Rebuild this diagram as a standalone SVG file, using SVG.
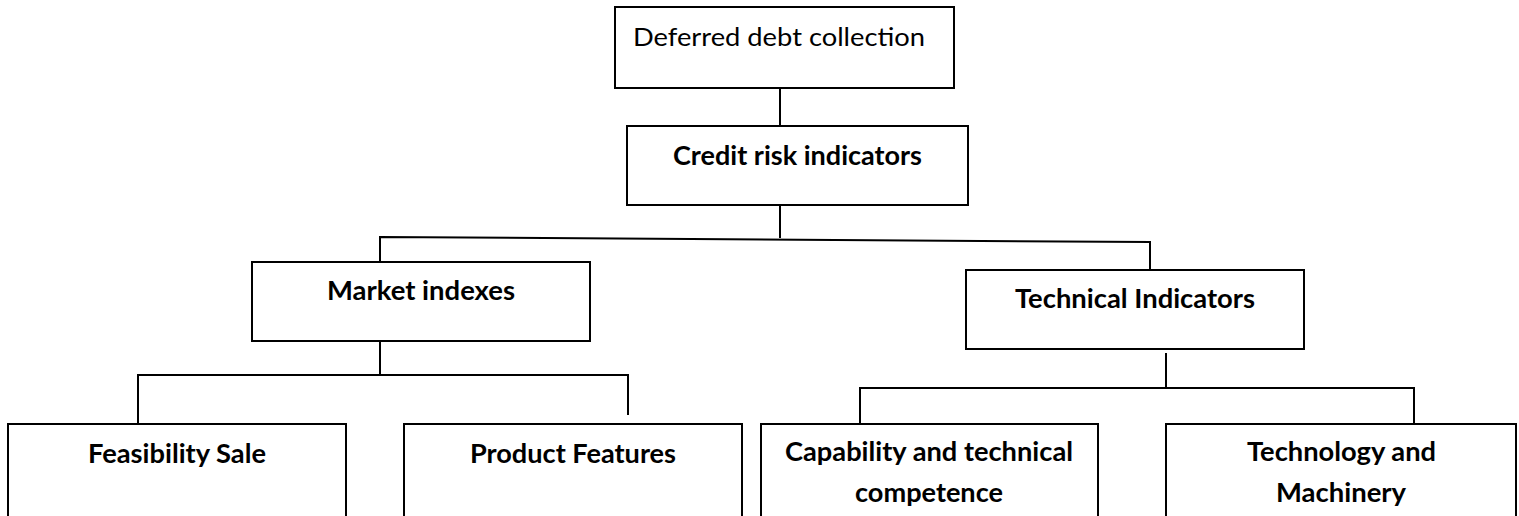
<svg xmlns="http://www.w3.org/2000/svg" width="1519" height="516" viewBox="0 0 1519 516">
<style>
.box{fill:#fff;stroke:#000;stroke-width:2}
.con{fill:none;stroke:#000;stroke-width:2}
.t{font-family:Lato,"Liberation Sans",sans-serif;font-size:27px;font-weight:bold;fill:#000}
.r{font-family:Lato,"Liberation Sans",sans-serif;font-size:25px;fill:#000}
</style>
<rect width="1519" height="516" fill="#fff"/>
<g id="connectors">
<path class="con" d="M780,88 V126"/>
<path class="con" d="M780,205 V238"/>
<path class="con" d="M380,262 V237 L1150,242 V270"/>
<path class="con" d="M380,341 V375"/>
<path class="con" d="M138,424 V375 H628 V415"/>
<path class="con" d="M1166,353 V388"/>
<path class="con" d="M860,424 V388 H1414 V424"/>
</g>
<g id="n-deferred">
<rect class="box" x="615" y="7" width="339" height="81"/>
<text class="r" x="633" y="46" textLength="292" lengthAdjust="spacingAndGlyphs">Deferred debt collection</text>
</g>
<g id="n-credit">
<rect class="box" x="627" y="126" width="341" height="79"/>
<text class="t" x="673" y="165" textLength="249" lengthAdjust="spacingAndGlyphs">Credit risk indicators</text>
</g>
<g id="n-market">
<rect class="box" x="252" y="262" width="338" height="79"/>
<text class="t" x="327" y="300" textLength="188" lengthAdjust="spacingAndGlyphs">Market indexes</text>
</g>
<g id="n-technical">
<rect class="box" x="966" y="270" width="338" height="79"/>
<text class="t" x="1015" y="308" textLength="240" lengthAdjust="spacingAndGlyphs">Technical Indicators</text>
</g>
<g id="n-feasibility">
<rect class="box" x="8" y="424" width="338" height="110"/>
<text class="t" x="88" y="463" textLength="178" lengthAdjust="spacingAndGlyphs">Feasibility Sale</text>
</g>
<g id="n-product">
<rect class="box" x="404" y="424" width="338" height="110"/>
<text class="t" x="470" y="463" textLength="206" lengthAdjust="spacingAndGlyphs">Product Features</text>
</g>
<g id="n-capability">
<rect class="box" x="761" y="424" width="337" height="110"/>
<text class="t" x="785" y="461" textLength="288" lengthAdjust="spacingAndGlyphs">Capability and technical</text>
<text class="t" x="855" y="502" textLength="148" lengthAdjust="spacingAndGlyphs">competence</text>
</g>
<g id="n-technology">
<rect class="box" x="1166" y="424" width="350" height="110"/>
<text class="t" x="1247" y="461" textLength="189" lengthAdjust="spacingAndGlyphs">Technology and</text>
<text class="t" x="1276" y="502" textLength="130" lengthAdjust="spacingAndGlyphs">Machinery</text>
</g>
</svg>
